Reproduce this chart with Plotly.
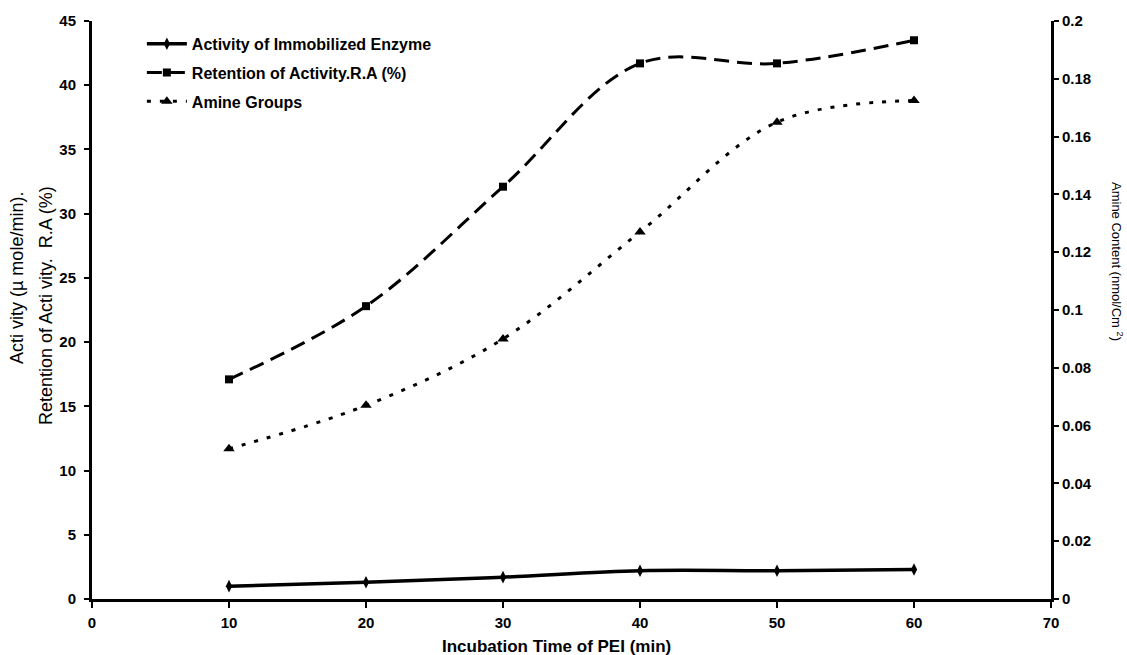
import plotly.graph_objects as go

time_min = [10, 20, 30, 40, 50, 60]
activity = [1.0, 1.3, 1.7, 2.2, 2.2, 2.3]
retention = [17.1, 22.8, 32.1, 41.7, 41.7, 43.5]
amine = [0.052, 0.067, 0.090, 0.127, 0.165, 0.1725]

x_ticks = [0, 10, 20, 30, 40, 50, 60, 70]
y_ticks = [0, 5, 10, 15, 20, 25, 30, 35, 40, 45]
y2_ticks = [0, 0.02, 0.04, 0.06, 0.08, 0.1, 0.12, 0.14, 0.16, 0.18, 0.2]
y2_labels = ["0", "0.02", "0.04", "0.06", "0.08", "0.1", "0.12", "0.14", "0.16", "0.18", "0.2"]

FONT = "Liberation Sans, Arial, sans-serif"
tickf = dict(family=FONT, size=15, color="black", weight="bold")
legf = dict(family=FONT, size=16, color="black", weight="bold")

fig = go.Figure()
fig.add_trace(go.Scatter(
    x=time_min, y=activity, name="Activity of Immobilized Enzyme",
    mode="lines+markers", line=dict(color="black", width=3.5, shape="spline"),
    marker=dict(symbol="diamond-tall", size=9, color="black"),
    legendgroup="a"))
fig.add_trace(go.Scatter(
    x=time_min, y=retention, name="Retention of Activity.R.A (%)",
    mode="lines+markers", line=dict(color="black", width=3, dash="15px,8px", shape="spline"),
    marker=dict(symbol="square", size=8, color="black"),
    legendgroup="b"))
fig.add_trace(go.Scatter(
    x=time_min, y=amine, name="Amine Groups", yaxis="y2",
    mode="lines+markers", line=dict(color="black", width=3, dash="4px,9px", shape="spline"),
    marker=dict(symbol="triangle-up", size=10, color="black"),
    legendgroup="c"))

fig.update_layout(
    width=1127, height=655,
    margin=dict(l=92, r=76, t=21, b=56),
    paper_bgcolor="white", plot_bgcolor="white",
    showlegend=True,
    legend=dict(x=0.052, y=0.99, xanchor="left", yanchor="top",
                font=legf, bgcolor="rgba(0,0,0,0)", tracegroupgap=5,
                itemwidth=40),
    xaxis=dict(range=[0, 70], tickvals=x_ticks, showgrid=False, zeroline=False,
               showline=True, linecolor="black", linewidth=3,
               ticks="outside", ticklen=6, tickwidth=2, tickcolor="black",
               tickfont=tickf, ticklabelstandoff=2),
    yaxis=dict(range=[0, 45], tickvals=y_ticks, showgrid=False, zeroline=False,
               showline=True, linecolor="black", linewidth=3,
               ticks="outside", ticklen=5, tickwidth=2, tickcolor="black",
               tickfont=tickf, ticklabelstandoff=5),
    yaxis2=dict(range=[0, 0.2], tickvals=y2_ticks, ticktext=y2_labels,
                overlaying="y", side="right", showgrid=False, zeroline=False,
                showline=True, linecolor="black", linewidth=3,
                ticks="outside", ticklen=5, tickwidth=2, tickcolor="black",
                tickfont=tickf, ticklabelstandoff=0),
)

reg = dict(family=FONT, size=18, color="black")
fig.add_annotation(text="Acti vity (µ mole/min).", xref="paper", yref="paper",
                   x=(17 - 92) / 959, y=(599 - 278) / 578, textangle=-90,
                   showarrow=False, font=reg, xanchor="center", yanchor="middle")
fig.add_annotation(text="Retention of Acti vity.  R.A (%)", xref="paper", yref="paper",
                   x=(46 - 92) / 959, y=(599 - 306) / 578, textangle=-90,
                   showarrow=False, font=reg, xanchor="center", yanchor="middle")
fig.add_annotation(text="Amine Content (nmol/Cm <sup>2</sup>)", xref="paper", yref="paper",
                   x=(1117 - 92) / 959, y=(599 - 261) / 578, textangle=90,
                   showarrow=False, font=dict(family=FONT, size=13, color="black"),
                   xanchor="center", yanchor="middle")
fig.add_annotation(text="Incubation Time of PEI (min)", xref="paper", yref="paper",
                   x=(556 - 92) / 959, y=(599 - 646) / 578,
                   showarrow=False, font=dict(family=FONT, size=17, color="black", weight="bold"),
                   xanchor="center", yanchor="middle")

fig.write_html("out.html")
